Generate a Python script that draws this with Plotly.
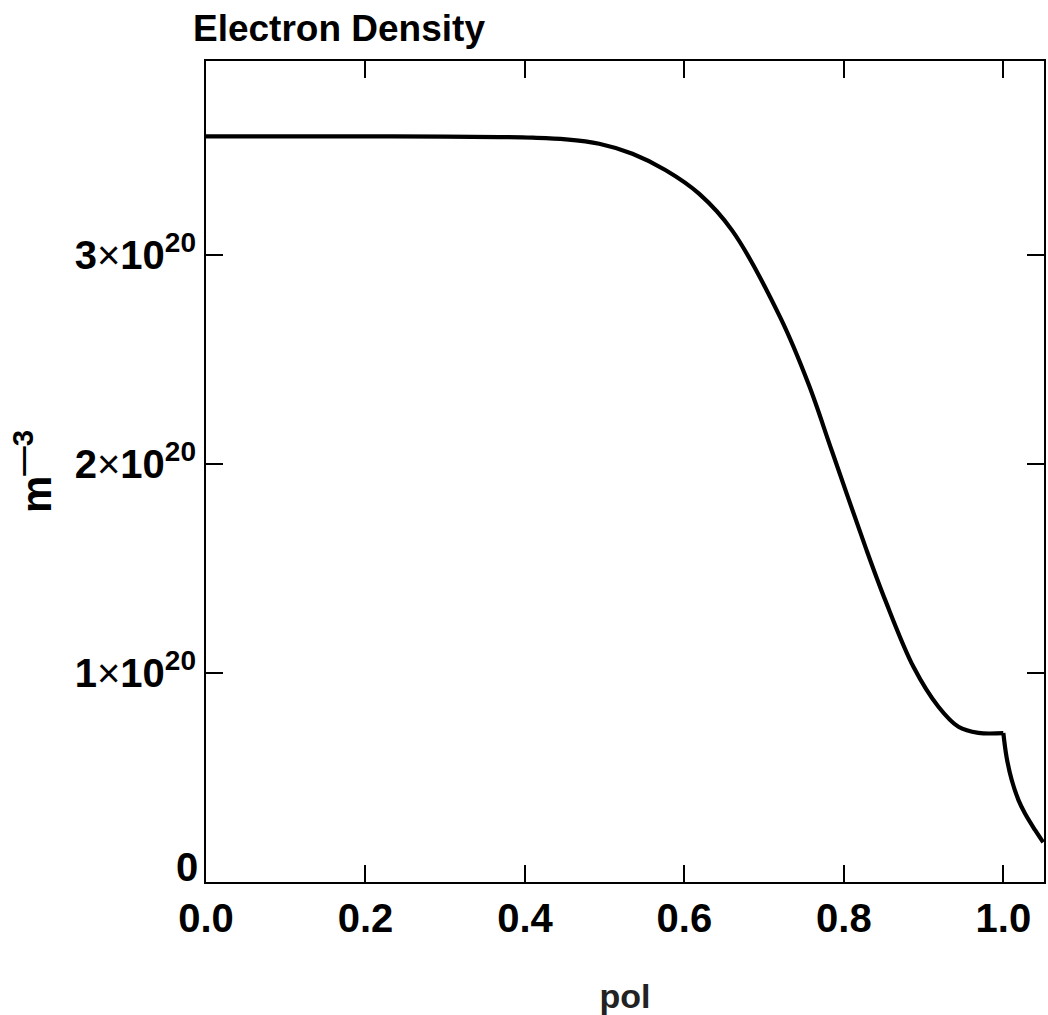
import plotly.graph_objects as go

# Data (rho_pol vs electron density, m^-3)
rho = [0.0, 0.1, 0.2, 0.3, 0.368, 0.4096, 0.4514, 0.4931, 0.5348, 0.5766,
       0.6183, 0.660, 0.7205, 0.7559, 0.785, 0.827, 0.852, 0.8874,
       0.9186, 0.9437, 0.9687, 1.0,
       1.004, 1.0105, 1.019, 1.027, 1.0397, 1.05]
ne = [3.569e20, 3.569e20, 3.569e20, 3.568e20, 3.566e20, 3.563e20, 3.555e20,
      3.534e20, 3.486e20, 3.407e20, 3.295e20, 3.118e20, 2.700e20,
      2.381e20, 2.063e20, 1.604e20, 1.348e20, 1.029e20, 0.839e20, 0.743e20,
      0.714e20, 0.713e20,
      0.599e20, 0.488e20, 0.392e20, 0.329e20, 0.249e20, 0.190e20]

x_ticks = [0.0, 0.2, 0.4, 0.6, 0.8, 1.0]
x_ticktext = ["0.0", "0.2", "0.4", "0.6", "0.8", "1.0"]
y_ticks = [0, 1e20, 2e20, 3e20]
X = '<span style="font-weight:normal">×</span>'
y_ticktext = ["", f"1{X}10<sup>20</sup>", f"2{X}10<sup>20</sup>", f"3{X}10<sup>20</sup>"]
y_zero_label = "0"

FONT = "Liberation Sans Narrow, Arial Narrow, Liberation Sans, Arial, sans-serif"

# split at the pedestal knee (rho = 1.0) so the corner stays sharp
k = rho.index(1.0)
fig = go.Figure()
for xs, ys in ((rho[:k + 1], ne[:k + 1]), (rho[k:], ne[k:])):
    fig.add_trace(go.Scatter(x=xs, y=ys, mode="lines",
                             line=dict(color="black", width=4.2, shape="spline", smoothing=1.0),
                             showlegend=False, hoverinfo="skip"))

axis_common = dict(
    showline=True, linecolor="black", linewidth=2, mirror="ticks",
    ticks="inside", ticklen=17, tickwidth=2, tickcolor="black",
    showgrid=False, zeroline=False,
    tickfont=dict(family=FONT, size=40, color="black", weight="bold"),
)

# the zero label of the y axis sits just above the x axis line
fig.add_annotation(x=0, xref="paper", y=y_ticks[0], yref="y", text=f"<b>{y_zero_label}</b>",
                   showarrow=False, xanchor="right", yanchor="bottom", xshift=-6, yshift=-9,
                   font=dict(family=FONT, size=40, color="black"))

fig.update_layout(
    width=1048, height=1015,
    margin=dict(l=206, r=2, t=61, b=133),
    paper_bgcolor="white", plot_bgcolor="white",
    title=dict(text="<b>Electron Density</b>", xref="container", yref="container",
               x=193 / 1048, xanchor="left", y=1 - 28 / 1015, yanchor="middle",
               font=dict(family=FONT, size=37, color="black")),
    xaxis=dict(range=[0, 1.051], tickvals=x_ticks, ticktext=x_ticktext,
               title=dict(text="<b>pol</b>", standoff=45,
                          font=dict(family=FONT, size=34, color="#222")),
               **axis_common),
    yaxis=dict(range=[0, 3.93e20], tickvals=y_ticks, ticktext=y_ticktext,
               title=dict(text="<b>m<sup>—3</sup></b>", standoff=10,
                          font=dict(family=FONT, size=42, color="black")),
               **axis_common),
)

fig.write_html("out.html", config={"displayModeBar": False},
               post_script="document.body.style.margin='0';")
